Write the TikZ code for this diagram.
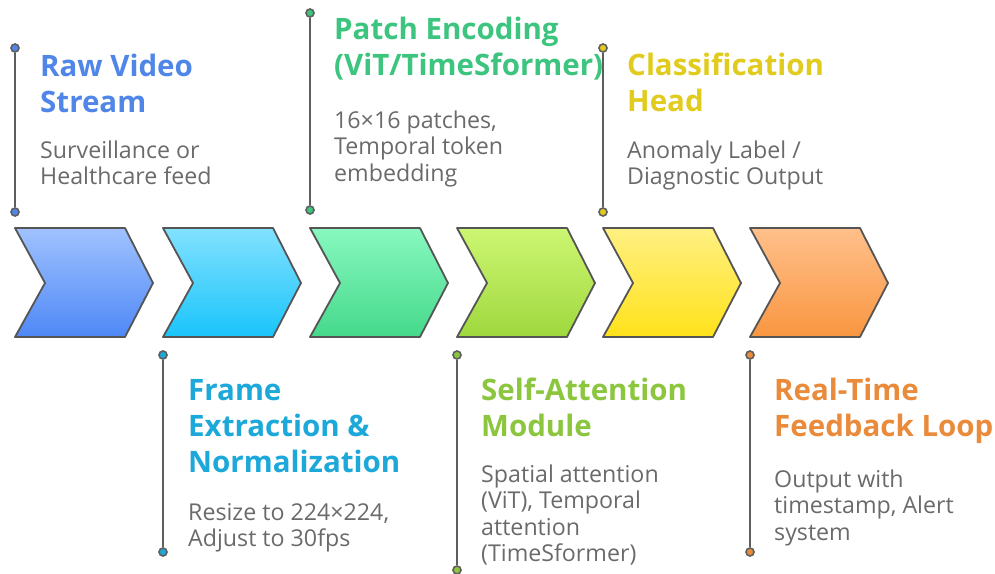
\documentclass[tikz,border=0pt]{standalone}
\usepackage{fontspec}
\setmainfont{Open Sans}
\usepackage{tikz}

\definecolor{rawcol}{HTML}{4F86E8}
\definecolor{rawtop}{HTML}{A0C2FF}
\definecolor{rawbot}{HTML}{4E88F6}
\definecolor{framecol}{HTML}{1CA8D9}
\definecolor{frametop}{HTML}{82E1FF}
\definecolor{framebot}{HTML}{1AC4FA}
\definecolor{patchcol}{HTML}{3DC57F}
\definecolor{patchtop}{HTML}{88F8BF}
\definecolor{patchbot}{HTML}{45D98B}
\definecolor{attncol}{HTML}{8CC63F}
\definecolor{attntop}{HTML}{CDF672}
\definecolor{attnbot}{HTML}{9FD83E}
\definecolor{headcol}{HTML}{E0CB1E}
\definecolor{headtop}{HTML}{FFF082}
\definecolor{headbot}{HTML}{FFE21A}
\definecolor{loopcol}{HTML}{E98B3B}
\definecolor{looptop}{HTML}{FFC08B}
\definecolor{loopbot}{HTML}{F99641}
\definecolor{edgegray}{HTML}{555555}
\definecolor{stemgray}{HTML}{5E5E5E}
\definecolor{bodygray}{HTML}{6A6A6A}

\begin{document}
\begin{tikzpicture}[x=1pt,y=-1pt,
    stage/.style={draw=edgegray, line width=1.8pt, line join=round},
    stem/.style={draw=stemgray, line width=2.6pt},
    dot/.style={circle, draw=stemgray, line width=1.6pt, inner sep=0pt, minimum size=8pt},
    title/.style={anchor=base west, align=left, inner sep=0pt, font=\fontsize{29.5}{36}\selectfont\bfseries},
    body/.style={anchor=base west, align=left, inner sep=0pt, font=\fontsize{23.2}{26.5}\selectfont, text=bodygray}]

    \useasboundingbox (0,0) rectangle (995,573);

    % the six chevrons
    \draw[stage, top color=rawtop, bottom color=rawbot] (15,228) -- (125,228) -- (153,283) -- (125,337) -- (15,337) -- (45,283) -- cycle;
    \draw[stage, top color=frametop, bottom color=framebot] (163,228) -- (273,228) -- (301,283) -- (273,337) -- (163,337) -- (193,283) -- cycle;
    \draw[stage, top color=patchtop, bottom color=patchbot] (310,228) -- (420,228) -- (448,283) -- (420,337) -- (310,337) -- (340,283) -- cycle;
    \draw[stage, top color=attntop, bottom color=attnbot] (457,228) -- (567,228) -- (595,283) -- (567,337) -- (457,337) -- (487,283) -- cycle;
    \draw[stage, top color=headtop, bottom color=headbot] (603,228) -- (713,228) -- (741,283) -- (713,337) -- (603,337) -- (633,283) -- cycle;
    \draw[stage, top color=looptop, bottom color=loopbot] (750,228) -- (860,228) -- (888,283) -- (860,337) -- (750,337) -- (780,283) -- cycle;

    % markers
    \node[dot, fill=rawcol] (rawA) at (15,48) {};
    \node[dot, fill=rawcol] (rawB) at (15,212) {};
    \node[dot, fill=framecol] (frameA) at (163,355) {};
    \node[dot, fill=framecol] (frameB) at (163,552) {};
    \node[dot, fill=patchcol] (patchA) at (310,13) {};
    \node[dot, fill=patchcol] (patchB) at (310,210) {};
    \node[dot, fill=attncol] (attnA) at (457,355) {};
    \node[dot, fill=attncol] (attnB) at (457,570) {};
    \node[dot, fill=headcol] (headA) at (603,48) {};
    \node[dot, fill=headcol] (headB) at (603,212) {};
    \node[dot, fill=loopcol] (loopA) at (750,355) {};
    \node[dot, fill=loopcol] (loopB) at (750,552) {};

    \draw[stem] (rawA) -- (rawB);
    \draw[stem] (frameA) -- (frameB);
    \draw[stem] (patchA) -- (patchB);
    \draw[stem] (attnA) -- (attnB);
    \draw[stem] (headA) -- (headB);
    \draw[stem] (loopA) -- (loopB);

    % labels (base = baseline of the last line)
    \node[title, text=rawcol] (rawT) at (40,112) {Raw Video\\Stream};
    \node[body] (rawD) at (40,184.5) {Surveillance or\\Healthcare feed};

    \node[title, text=framecol] (frameT) at (188,472) {Frame\\Extraction \&\\Normalization};
    \node[body] (frameD) at (188,546.5) {Resize to 224×224,\\Adjust to 30fps};

    \node[title, text=patchcol] (patchT) at (334,75) {Patch Encoding\\(ViT/TimeSformer)};
    \node[body] (patchD) at (334,181) {16×16 patches,\\Temporal token\\embedding};

    \node[title, text=attncol] (attnT) at (481,436) {Self-Attention\\Module};
    \node[body] (attnD) at (481,561.5) {Spatial attention\\(ViT), Temporal\\attention\\(TimeSformer)};

    \node[title, text=headcol] (headT) at (627,111) {Classification\\Head};
    \node[body] (headD) at (627,184.5) {Anomaly Label /\\Diagnostic Output};

    \node[title, text=loopcol] (loopT) at (774,436) {Real-Time\\Feedback Loop};
    \node[body] (loopD) at (774,540) {Output with\\timestamp, Alert\\system};

\end{tikzpicture}
\end{document}
